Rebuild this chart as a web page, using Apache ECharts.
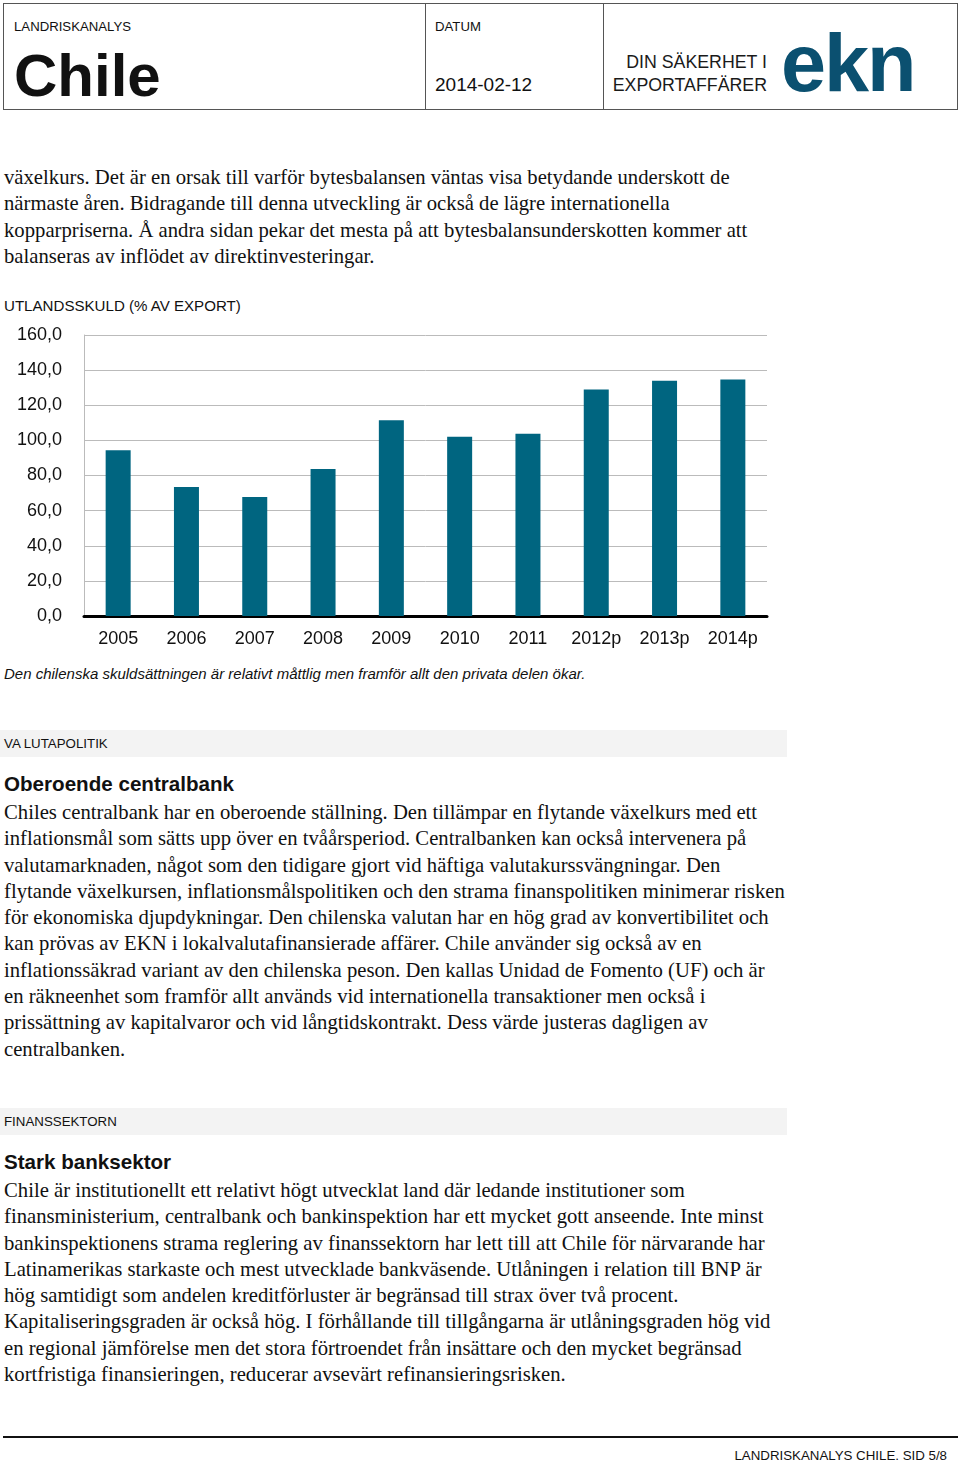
<!DOCTYPE html>
<html><head><meta charset="utf-8">
<script src="https://cdn.jsdelivr.net/npm/echarts@6/dist/echarts.min.js"></script>
<style>
html,body{margin:0;padding:0;background:#fff;}
body{width:960px;height:1462px;position:relative;overflow:hidden;font-family:"Liberation Sans",Arial,sans-serif;color:#111;}
.abs{position:absolute;white-space:nowrap;}
.serif{font-family:"Liberation Serif","Times New Roman",serif;font-size:20.7px;line-height:26.3px;color:#111;}
.hdr{position:absolute;left:3px;top:3px;width:955px;height:107px;border:1px solid #555;box-sizing:border-box;}
.vline{position:absolute;top:3px;width:1px;height:107px;background:#555;}
.band{position:absolute;left:0;width:787px;height:27px;background:#f3f3f3;font-size:13.3px;line-height:27px;padding-left:4px;box-sizing:border-box;}
.h2{font-size:20.6px;font-weight:bold;}
</style></head>
<body>
<div class="hdr"></div>
<div class="vline" style="left:425px"></div>
<div class="vline" style="left:603px"></div>
<div class="abs" style="left:14px;top:19px;font-size:13.2px;">LANDRISKANALYS</div>
<div class="abs" style="left:14px;top:41px;font-size:60px;font-weight:bold;line-height:70px;">Chile</div>
<div class="abs" style="left:435px;top:19px;font-size:13.2px;">DATUM</div>
<div class="abs" style="left:435px;top:74px;font-size:19px;">2014-02-12</div>
<div class="abs" style="left:560px;top:50px;width:207px;text-align:right;font-size:18.5px;line-height:23px;color:#1a1a1a;transform:scaleX(0.96);transform-origin:right top;">DIN SÄKERHET I<br>EXPORTAFFÄRER</div>
<div class="abs" style="left:781px;top:18px;font-size:81px;font-weight:bold;line-height:90px;color:#0b5070;letter-spacing:-2px;">ekn</div>

<div class="abs serif" style="left:4px;top:164px;">växelkurs. Det är en orsak till varför bytesbalansen väntas visa betydande underskott de<br>närmaste åren. Bidragande till denna utveckling är också de lägre internationella<br>kopparpriserna. Å andra sidan pekar det mesta på att bytesbalansunderskotten kommer att<br>balanseras av inflödet av direktinvesteringar.</div>

<div class="abs" style="left:4px;top:297px;font-size:15.1px;">UTLANDSSKULD (% AV EXPORT)</div>
<div id="chart" style="position:absolute;left:0;top:320px;width:780px;height:340px;"></div>
<div class="abs" style="left:4px;top:665px;font-size:15px;font-style:italic;">Den chilenska skuldsättningen är relativt måttlig men framför allt den privata delen ökar.</div>

<div class="band" style="top:730px;">VA LUTAPOLITIK</div>
<div class="abs h2" style="left:4px;top:772px;">Oberoende centralbank</div>
<div class="abs serif" style="left:4px;top:799px;">Chiles centralbank har en oberoende ställning. Den tillämpar en flytande växelkurs med ett<br>inflationsmål som sätts upp över en tvåårsperiod. Centralbanken kan också intervenera på<br>valutamarknaden, något som den tidigare gjort vid häftiga valutakurssvängningar. Den<br>flytande växelkursen, inflationsmålspolitiken och den strama finanspolitiken minimerar risken<br>för ekonomiska djupdykningar. Den chilenska valutan har en hög grad av konvertibilitet och<br>kan prövas av EKN i lokalvalutafinansierade affärer. Chile använder sig också av en<br>inflationssäkrad variant av den chilenska peson. Den kallas Unidad de Fomento (UF) och är<br>en räkneenhet som framför allt används vid internationella transaktioner men också i<br>prissättning av kapitalvaror och vid långtidskontrakt. Dess värde justeras dagligen av<br>centralbanken.</div>

<div class="band" style="top:1108px;">FINANSSEKTORN</div>
<div class="abs h2" style="left:4px;top:1150px;">Stark banksektor</div>
<div class="abs serif" style="left:4px;top:1177px;">Chile är institutionellt ett relativt högt utvecklat land där ledande institutioner som<br>finansministerium, centralbank och bankinspektion har ett mycket gott anseende. Inte minst<br>bankinspektionens strama reglering av finanssektorn har lett till att Chile för närvarande har<br>Latinamerikas starkaste och mest utvecklade bankväsende. Utlåningen i relation till BNP är<br>hög samtidigt som andelen kreditförluster är begränsad till strax över två procent.<br>Kapitaliseringsgraden är också hög. I förhållande till tillgångarna är utlåningsgraden hög vid<br>en regional jämförelse men det stora förtroendet från insättare och den mycket begränsad<br>kortfristiga finansieringen, reducerar avsevärt refinansieringsrisken.</div>

<div style="position:absolute;left:3px;top:1436px;width:955px;height:2px;background:#111;"></div>
<div class="abs" style="right:13px;top:1448px;font-size:13.3px;">LANDRISKANALYS CHILE. SID 5/8</div>

<script>
var categories = ['2005','2006','2007','2008','2009','2010','2011','2012p','2013p','2014p'];
var debtValues = [94.4, 73.5, 67.8, 83.7, 111.4, 102.1, 103.8, 128.9, 134.0, 134.6];
var yMin = 0, yMax = 160, yStep = 20;

var chart = echarts.init(document.getElementById('chart'), null, {renderer:'canvas'});
chart.setOption({
  animation:false,
  grid:{left:84,right:13,top:15,bottom:44,containLabel:false},
  xAxis:{
    type:'category', data:categories,
    axisLine:{show:true,lineStyle:{color:'#000',width:3}},
    axisTick:{show:false},
    axisLabel:{color:'#111',fontSize:18,fontFamily:'Liberation Sans',margin:14},
    splitLine:{show:false}
  },
  yAxis:{
    type:'value', min:yMin, max:yMax, interval:yStep,
    axisLine:{show:true,lineStyle:{color:'#bbb',width:1}},
    axisTick:{show:false},
    axisLabel:{color:'#111',fontSize:18,fontFamily:'Liberation Sans',margin:22,
      formatter:function(v){return v.toFixed(1).replace('.',',');}},
    splitLine:{show:true,lineStyle:{color:'#bbb',width:1}}
  },
  series:[{
    type:'bar', data:debtValues, barWidth:25,
    itemStyle:{color:'#006580'}
  }]
});
</script>
</body></html>
